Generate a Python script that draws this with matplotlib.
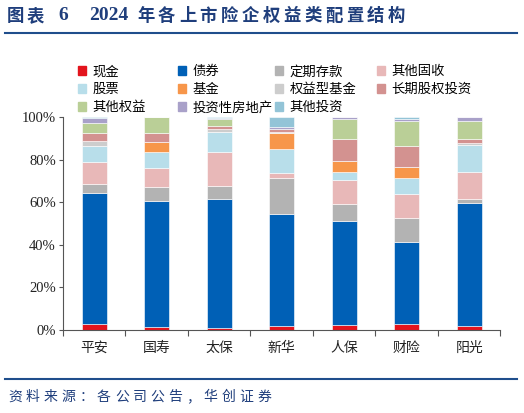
import matplotlib
matplotlib.use("Agg")
import matplotlib.pyplot as plt
import numpy as np
from matplotlib.patches import Rectangle
from matplotlib.lines import Line2D

plt.rcParams['font.family'] = ['Noto Sans CJK SC', 'DejaVu Sans']

companies = ["平安", "国寿", "太保", "新华", "人保", "财险", "阳光"]
series_names = ["现金", "债券", "定期存款", "其他固收", "股票", "基金",
                "权益型基金", "长期股权投资", "其他权益", "投资性房地产", "其他投资"]

cash         = [2.8, 1.3, 1.1, 2.0, 2.5, 2.8, 1.9]
bonds        = [61.5, 59.2, 60.2, 52.2, 48.8, 38.4, 57.7]
deposits     = [4.4, 6.6, 6.4, 17.1, 7.8, 11.3, 1.8]
other_fixed  = [10.1, 8.8, 15.8, 2.4, 11.3, 11.3, 12.7]
stocks       = [7.7, 7.5, 9.4, 11.1, 3.9, 7.7, 12.6]
funds        = [0.0, 4.8, 0.0, 7.8, 5.0, 5.1, 0.0]
equity_funds = [2.4, 0.0, 1.6, 0.3, 0.0, 0.0, 0.9]
lt_equity    = [3.4, 4.3, 1.1, 1.6, 10.2, 9.8, 1.9]
other_equity = [5.0, 7.5, 3.3, 0.0, 9.4, 11.6, 8.5]
real_estate  = [2.2, 0.0, 0.8, 0.6, 1.1, 1.1, 2.0]
other_inv    = [0.5, 0.0, 0.3, 4.9, 0.0, 0.9, 0.0]

series = [cash, bonds, deposits, other_fixed, stocks, funds, equity_funds,
          lt_equity, other_equity, real_estate, other_inv]
colors = ["#E3141D", "#0060B6", "#B3B3B3", "#E8B8B8", "#B8DEEA", "#F7964A",
          "#CDCDCD", "#D39290", "#BACF97", "#A9A1C9", "#93C4D7"]

W, H = 524, 413
fig = plt.figure(figsize=(W / 100, H / 100), dpi=100)
ax = fig.add_axes([0.120, 0.201, 0.835, 0.516])

x = np.arange(len(companies))
bottom = np.zeros(len(companies))
for vals, c in zip(series, colors):
    v = np.array(vals)
    ax.bar(x, v, bottom=bottom, width=0.4, color=c, edgecolor="white",
           linewidth=0.4, zorder=2)
    bottom += v

ax.set_xlim(-0.5, 6.5)
ax.set_ylim(0, 100)
ax.set_yticks(np.arange(0, 101, 20))
ax.set_yticklabels([f"{v}%" for v in range(0, 101, 20)],
                   family=['Liberation Serif', 'DejaVu Serif'], fontsize=10.5,
                   color="#222222")
ax.set_xticks(np.arange(-0.5, 7, 1))
ax.set_xticklabels([])
ax.set_xticks(x, minor=True)
ax.set_xticklabels(companies, minor=True, fontsize=10, color="#222222")
ax.tick_params(axis='x', which='minor', length=0, pad=8)
ax.tick_params(axis='x', which='major', direction='out', length=4, color="#555555")
ax.tick_params(axis='y', direction='out', length=3, color="#555555", pad=2)
for s in ["top", "right"]:
    ax.spines[s].set_visible(False)
for s in ["left", "bottom"]:
    ax.spines[s].set_color("#555555")
    ax.spines[s].set_linewidth(0.8)

# legend: 4 evenly spaced columns, filled row by row like the reference
handles = [Rectangle((0, 0), 1, 1, color=c) for c in colors]
col_x = [69, 169, 266, 368]
for ci, cx in enumerate(col_x):
    idx = list(range(ci, len(series_names), 4))
    fig.legend([handles[i] for i in idx], [series_names[i] for i in idx],
               ncol=1, loc="upper left",
               bbox_to_anchor=(cx / W, 1 - 55 / H), frameon=False, fontsize=9.6,
               handlelength=0.6, handleheight=0.6, handletextpad=0.45,
               labelspacing=0.3, borderpad=0.2)

# title, laid out character by character to mimic the wide spacing
title_color = "#1F3E7C"
def put(px, py, s, **kw):
    fig.text(px / W, 1 - py / H, s, va="center", ha="left", **kw)

tkw = dict(fontsize=12.5, fontweight="bold", color=title_color)
for i, ch in enumerate("图表"):
    put(7 + i * 19.5, 16, ch, **tkw)
put(58, 16, "6", family=['Liberation Serif', 'DejaVu Serif'], fontsize=14,
    fontweight="bold", color=title_color)
put(89, 16, "2024", family=['Liberation Serif', 'DejaVu Serif'], fontsize=14,
    fontweight="bold", color=title_color)
for i, ch in enumerate("年各上市险企权益类配置结构"):
    put(137 + i * 20.9, 16, ch, **tkw)

fig.add_artist(Line2D([5 / W, 517 / W], [1 - 33 / H, 1 - 33 / H],
                      color="#1F4E8C", linewidth=1.5))
fig.add_artist(Line2D([5 / W, 517 / W], [1 - 379 / H, 1 - 379 / H],
                      color="#1F4E8C", linewidth=1.5))
for i, ch in enumerate("资料来源：各公司公告，华创证券"):
    put(8 + i * 17.8, 397, ch, fontsize=10, color=title_color)

fig.savefig("out.png", dpi=100)
